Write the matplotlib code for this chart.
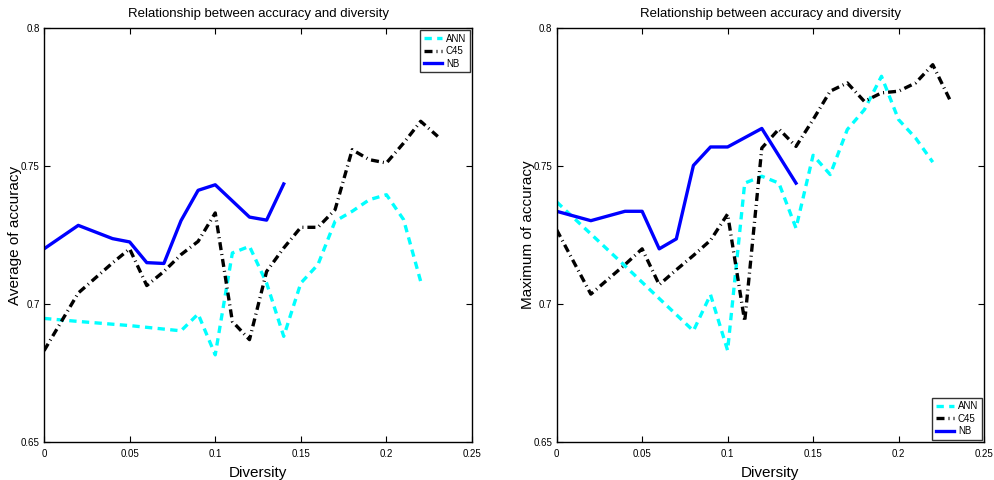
import matplotlib.pyplot as plt
import numpy as np

plt.rcParams['font.family'] = ['Liberation Sans', 'DejaVu Sans']

# left panel: average of accuracy
avg_ann_x = [0, 0.02, 0.05, 0.08, 0.09, 0.10, 0.11, 0.12, 0.13, 0.14, 0.15, 0.16, 0.17, 0.18, 0.19, 0.20, 0.21, 0.22]
avg_ann_y = [0.6948, 0.6937, 0.6922, 0.6903, 0.6964, 0.6816, 0.7185, 0.7209, 0.7076, 0.6883, 0.7076, 0.7143,
             0.7300, 0.7336, 0.7378, 0.7396, 0.7306, 0.7082]
avg_c45_x = [0, 0.02, 0.04, 0.05, 0.06, 0.07, 0.08, 0.09, 0.10, 0.11, 0.12, 0.13, 0.14, 0.15, 0.16, 0.17,
             0.18, 0.19, 0.20, 0.21, 0.22, 0.23]
avg_c45_y = [0.6831, 0.7040, 0.7149, 0.7200, 0.7067, 0.7118, 0.7179, 0.7227, 0.7330, 0.6937, 0.6871, 0.7118,
             0.7203, 0.7278, 0.7278, 0.7342, 0.7559, 0.7523, 0.7511, 0.7583, 0.7662, 0.7607]
avg_nb_x = [0, 0.02, 0.04, 0.05, 0.06, 0.07, 0.08, 0.09, 0.10, 0.12, 0.13, 0.14]
avg_nb_y = [0.7200, 0.7285, 0.7237, 0.7225, 0.7150, 0.7147, 0.7302, 0.7412, 0.7432, 0.7315, 0.7304, 0.7435]

# right panel: maximum of accuracy
max_ann_x = [0, 0.02, 0.04, 0.06, 0.08, 0.09, 0.10, 0.11, 0.12, 0.13, 0.14, 0.15, 0.16, 0.17, 0.18, 0.19,
             0.20, 0.21, 0.22]
max_ann_y = [0.7370, 0.7254, 0.7138, 0.7020, 0.6903, 0.7034, 0.6832, 0.7438, 0.7463, 0.7438, 0.7275, 0.7539,
             0.7469, 0.7632, 0.7704, 0.7825, 0.7668, 0.7601, 0.7514]
max_c45_x = [0, 0.02, 0.04, 0.05, 0.06, 0.07, 0.08, 0.09, 0.10, 0.11, 0.12, 0.13, 0.14, 0.15, 0.16, 0.17,
             0.18, 0.19, 0.20, 0.21, 0.22, 0.23]
max_c45_y = [0.7269, 0.7036, 0.7143, 0.7200, 0.7070, 0.7124, 0.7176, 0.7231, 0.7326, 0.6937, 0.7565, 0.7634,
             0.7571, 0.7668, 0.7771, 0.7801, 0.7734, 0.7765, 0.7771, 0.7801, 0.7867, 0.7740]
max_nb_x = [0, 0.02, 0.04, 0.05, 0.06, 0.07, 0.08, 0.09, 0.10, 0.12, 0.14]
max_nb_y = [0.7336, 0.7302, 0.7336, 0.7336, 0.7200, 0.7236, 0.7502, 0.7569, 0.7569, 0.7636, 0.7438]

x_ticks = [0, 0.05, 0.1, 0.15, 0.2, 0.25]
x_tick_labels = ['0', '0.05', '0.1', '0.15', '0.2', '0.25']
y_ticks = [0.65, 0.7, 0.75, 0.8]
y_tick_labels = ['0.65', '0.7', '0.75', '0.8']

fig = plt.figure(figsize=(9.94, 4.8), dpi=100)
ax1 = fig.add_axes([0.0443, 0.079, 0.4306, 0.8627])
ax2 = fig.add_axes([0.5600, 0.079, 0.4300, 0.8627])


def draw(ax, ann, c45, nb, ylabel, legend_loc):
    ax.plot(ann[0], ann[1], color='cyan', linestyle=(0, (2.2, 1.6)), linewidth=2.4, label='ANN')
    ax.plot(c45[0], c45[1], color='black', linestyle=(0, (2.4, 1.2, 0.3, 1.2)), linewidth=2.4, label='C45')
    ax.plot(nb[0], nb[1], color='#0000ff', linestyle='-', linewidth=2.4, label='NB')
    ax.set_xlim(0, 0.25)
    ax.set_ylim(0.65, 0.8)
    ax.set_xticks(x_ticks)
    ax.set_xticklabels(x_tick_labels)
    ax.set_yticks(y_ticks)
    ax.set_yticklabels(y_tick_labels)
    ax.tick_params(direction='in', top=True, right=True, labelsize=7, length=4)
    ax.tick_params(axis='x', pad=5)
    ax.tick_params(axis='y', pad=3)
    for s in ax.spines.values():
        s.set_linewidth(1.0)
    ax.set_title('Relationship between accuracy and diversity', fontsize=9.5, pad=8)
    ax.set_xlabel('Diversity', fontsize=11, labelpad=5)
    ax.set_ylabel(ylabel, fontsize=11, labelpad=-1)
    leg = ax.legend(loc=legend_loc, fontsize=7, fancybox=False, edgecolor='black',
                    handlelength=1.9, borderaxespad=0.25, labelspacing=0.25, handletextpad=0.4,
                    borderpad=0.35)
    leg.get_frame().set_linewidth(1.0)


draw(ax1, (avg_ann_x, avg_ann_y), (avg_c45_x, avg_c45_y), (avg_nb_x, avg_nb_y),
     'Average of accuracy', 'upper right')
draw(ax2, (max_ann_x, max_ann_y), (max_c45_x, max_c45_y), (max_nb_x, max_nb_y),
     'Maximum of accuracy', 'lower right')

fig.savefig('out.png', dpi=100)
